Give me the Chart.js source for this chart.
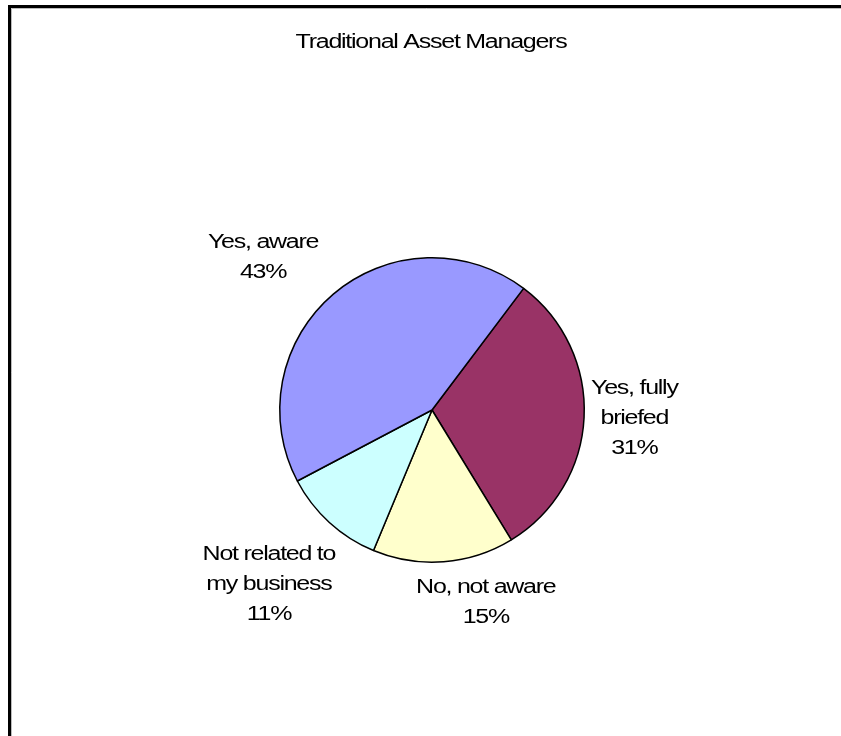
<!DOCTYPE html>
<html>
<head>
<meta charset="utf-8">
<script src="https://cdn.jsdelivr.net/npm/chart.js@4"></script>
<style>
  html, body { margin: 0; padding: 0; background: #fff; }
  #wrap { position: relative; width: 841px; height: 736px; }
</style>
</head>
<body>
<div id="wrap"><canvas id="pieChart" width="841" height="736"></canvas></div>
<script>
// survey answers, clockwise from the first slice
const labels = ['Yes, fully briefed', 'No, not aware', 'Not related to my business', 'Yes, aware'];
const labelLines = [['Yes, fully', 'briefed'], ['No, not aware'], ['Not related to', 'my business'], ['Yes, aware']];
const shares = [31, 15, 11, 43];
const colors = ['#993366', '#FFFFCC', '#CCFFFF', '#9999FF'];

const titleText = 'Traditional Asset Managers';
const FONT = '"Liberation Sans", Arial, sans-serif';
const STRETCH = 1.25;   // wide glyphs, tight spacing
const LINE_H = 30;

// small shifts for the outside labels
const labelNudge = [[-3, -2], [36, 1], [-9, 21], [-28, -6]];

function wideText(ctx, str, x, y) {
    ctx.save();
    ctx.translate(x, y);
    ctx.scale(STRETCH, 1);
    ctx.letterSpacing = '-1px';
    ctx.fillText(str, 0, 0);
    ctx.restore();
}

function wideWidth(ctx, str) {
    ctx.save();
    ctx.letterSpacing = '-1px';
    const w = ctx.measureText(str).width * STRETCH;
    ctx.restore();
    return w;
}

// frame and title
const framePlugin = {
    id: 'frame',
    beforeDraw(chart) {
        const ctx = chart.ctx;
        ctx.save();
        ctx.fillStyle = '#fff';
        ctx.fillRect(0, 0, chart.width, chart.height);
        ctx.strokeStyle = '#000';
        ctx.lineWidth = 3;
        ctx.beginPath();
        ctx.moveTo(9.5, chart.height);
        ctx.lineTo(9.5, 6.5);
        ctx.lineTo(chart.width, 6.5);
        ctx.stroke();
        ctx.strokeStyle = '#bbb';
        ctx.lineWidth = 1;
        ctx.beginPath();
        ctx.moveTo(11.5, chart.height);
        ctx.lineTo(11.5, 8.5);
        ctx.lineTo(chart.width, 8.5);
        ctx.stroke();

        ctx.fillStyle = '#000';
        ctx.font = '20px ' + FONT;
        ctx.textAlign = 'center';
        ctx.textBaseline = 'alphabetic';
        wideText(ctx, titleText, 431, 48);
        ctx.restore();
    }
};

// name and percentage outside each slice
const outsideLabels = {
    id: 'outsideLabels',
    afterDatasetsDraw(chart) {
        const ctx = chart.ctx;
        const arcs = chart.getDatasetMeta(0).data;
        ctx.save();
        ctx.fillStyle = '#000';
        ctx.font = '20px ' + FONT;
        ctx.textAlign = 'center';
        ctx.textBaseline = 'middle';
        arcs.forEach((arc, i) => {
            const mid = (arc.startAngle + arc.endAngle) / 2;
            const ux = Math.cos(mid), uy = Math.sin(mid);
            const r = arc.outerRadius + 10;
            const ax = arc.x + ux * r, ay = arc.y + uy * r;
            const lines = labelLines[i].concat([shares[i] + '%']);
            const w = Math.max(...lines.map(l => wideWidth(ctx, l)));
            const h = lines.length * LINE_H;
            const cx = ax + ux * w / 2 + labelNudge[i][0];
            const cy = ay + uy * h / 2 + labelNudge[i][1];
            lines.forEach((l, k) => {
                wideText(ctx, l, cx, cy - h / 2 + LINE_H * (k + 0.5));
            });
        });
        ctx.restore();
    }
};

new Chart(document.getElementById('pieChart'), {
    type: 'pie',
    data: {
        labels: labels,
        datasets: [{
            data: shares,
            backgroundColor: colors,
            borderColor: '#000',
            borderWidth: 1.5
        }]
    },
    options: {
        responsive: false,
        animation: false,
        rotation: 37,
        layout: { padding: { left: 279, right: 256, top: 257, bottom: 173 } },
        plugins: {
            legend: { display: false },
            tooltip: { enabled: false }
        }
    },
    plugins: [framePlugin, outsideLabels]
});
</script>
</body>
</html>
